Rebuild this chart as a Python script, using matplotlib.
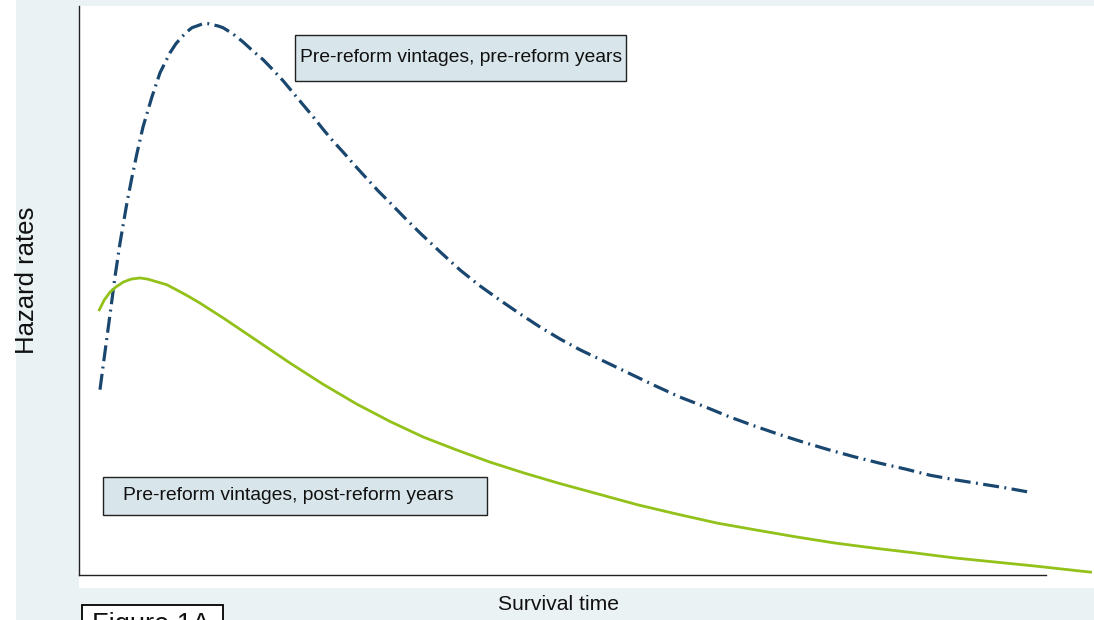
import matplotlib
matplotlib.use("Agg")
import matplotlib.pyplot as plt
from matplotlib.patches import Rectangle

# smoothed hazard estimates (survival time, hazard index)
pre_years_t = [2.17, 2.48, 2.90, 3.31, 3.72, 4.24, 4.96, 5.48, 6.00, 6.62, 7.55,
               8.38, 9.41, 10.03, 10.65, 11.17, 11.69, 12.20, 12.82, 13.34, 13.86,
               14.37, 14.89, 15.93, 16.96, 17.99, 19.03, 20.06, 21.10, 22.13,
               23.16, 24.20, 25.23, 26.27, 27.30, 28.54, 29.78, 30.92, 32.16,
               33.71, 35.26, 37.33, 39.40, 41.47, 43.54, 45.60, 47.67, 49.74,
               51.81, 54.40, 56.98, 59.57, 62.15, 64.74, 67.32, 69.91, 72.49,
               75.08, 77.66, 80.25, 82.83, 85.42, 88.00, 90.59, 93.17, 95.76,
               98.04]
pre_years_h = [32.5, 36.5, 41.8, 47.0, 52.3, 58.2, 65.3, 69.8, 74.0, 78.6, 83.9,
               88.1, 91.6, 93.2, 94.4, 95.3, 96.0, 96.3, 96.7, 96.7, 96.5, 96.3,
               96.0, 94.9, 93.5, 91.9, 90.4, 88.6, 86.7, 84.6, 82.5, 80.4, 78.2,
               76.1, 74.2, 71.8, 69.5, 67.4, 65.3, 62.6, 60.0, 56.7, 53.5, 50.7,
               48.2, 45.8, 43.5, 41.4, 39.5, 37.4, 35.3, 33.2, 31.2, 29.5, 27.7,
               26.1, 24.6, 23.2, 21.9, 20.7, 19.6, 18.6, 17.5, 16.7, 16.0, 15.3,
               14.6]

post_years_t = [2.1, 2.6, 3.2, 3.8, 4.6, 5.4, 6.3, 7.1, 8.1, 9.1, 10.1, 11.3,
                12.5, 14.9, 18.4, 21.8, 25.2, 28.7, 32.2, 35.6, 39.1, 42.5, 46.0,
                49.6, 53.7, 57.8, 61.8, 66.0, 70.0, 74.1, 78.2, 82.3, 86.3, 90.5,
                94.6, 98.7, 104.6]
post_years_h = [46.5, 48.2, 49.6, 50.5, 51.4, 51.9, 52.1, 51.9, 51.4, 50.9, 50.0,
                48.9, 47.7, 45.1, 41.1, 37.2, 33.5, 30.0, 26.9, 24.2, 21.9, 19.8,
                17.9, 16.1, 14.2, 12.3, 10.7, 9.1, 7.9, 6.7, 5.6, 4.7, 3.9, 3.0,
                2.3, 1.6, 0.5]

label_pre = "Pre-reform vintages, pre-reform years"
label_post = "Pre-reform vintages, post-reform years"

W, H = 1094, 620
plt.rcParams['font.family'] = ['Liberation Sans', 'DejaVu Sans']

fig = plt.figure(figsize=(W / 100, H / 100), dpi=100)
fig.patch.set_facecolor("#eaf2f3")


def fx(px):
    return px / W


def fy(py):
    return 1 - py / H


# white strip on the far left
fig.add_artist(Rectangle((0, 0), fx(16), 1, transform=fig.transFigure,
                         facecolor="white", edgecolor="none", zorder=0))

ax = fig.add_axes([fx(79), fy(588), fx(1094 - 79), (588 - 6) / H])
ax.set_facecolor("white")
ax.set_xlim(0, 104.96)
ax.set_ylim(-2.28, 99.8)

ax.plot(pre_years_t, pre_years_h, color="#1a476f", lw=2.3,
        dashes=(5, 1.7, 0.6, 1.7), dash_capstyle="butt", zorder=3)
ax.plot(post_years_t, post_years_h, color="#92c11a", lw=2.0, zorder=3,
        clip_on=False)

for s in ["top", "right"]:
    ax.spines[s].set_visible(False)
ax.spines["left"].set_bounds(0, 99.8)
ax.spines["bottom"].set_bounds(0, 100)
ax.spines["bottom"].set_position(("data", 0))
for s in ["left", "bottom"]:
    ax.spines[s].set_color("#222222")
    ax.spines[s].set_linewidth(1.0)
ax.set_xticks([])
ax.set_yticks([])

# annotation boxes
fig.add_artist(Rectangle((fx(295), fy(81)), fx(626 - 295), (81 - 35) / H,
                         transform=fig.transFigure, facecolor="#d8e5ea",
                         edgecolor="#222222", lw=1.0, zorder=4))
fig.text(fx(300), fy(58), label_pre, fontsize=13.9, va="center", ha="left",
         color="#111111", zorder=5)

fig.add_artist(Rectangle((fx(103), fy(515)), fx(487 - 103), (515 - 477) / H,
                         transform=fig.transFigure, facecolor="#d8e5ea",
                         edgecolor="#222222", lw=1.0, zorder=4))
fig.text(fx(288), fy(496), label_post, fontsize=13.9, va="center", ha="center",
         color="#111111", zorder=5)

# axis titles
fig.text(fx(27), fy(280), "Hazard rates", rotation=90, fontsize=18.5,
         ha="center", va="center", color="#111111")
fig.text(fx(558), fy(604), "Survival time", fontsize=15.2,
         ha="center", va="center", color="#111111")

# figure tag, partly cut off at the bottom edge as in the source
fig.add_artist(Rectangle((fx(82), fy(640)), fx(223 - 82), (640 - 605) / H,
                         transform=fig.transFigure, facecolor="white",
                         edgecolor="black", lw=1.3, zorder=4))
fig.text(fx(92), fy(612), "Figure 1A", fontsize=19.5, ha="left", va="top",
         color="#111111", zorder=5)

fig.savefig("out.png", dpi=100, facecolor=fig.get_facecolor())
